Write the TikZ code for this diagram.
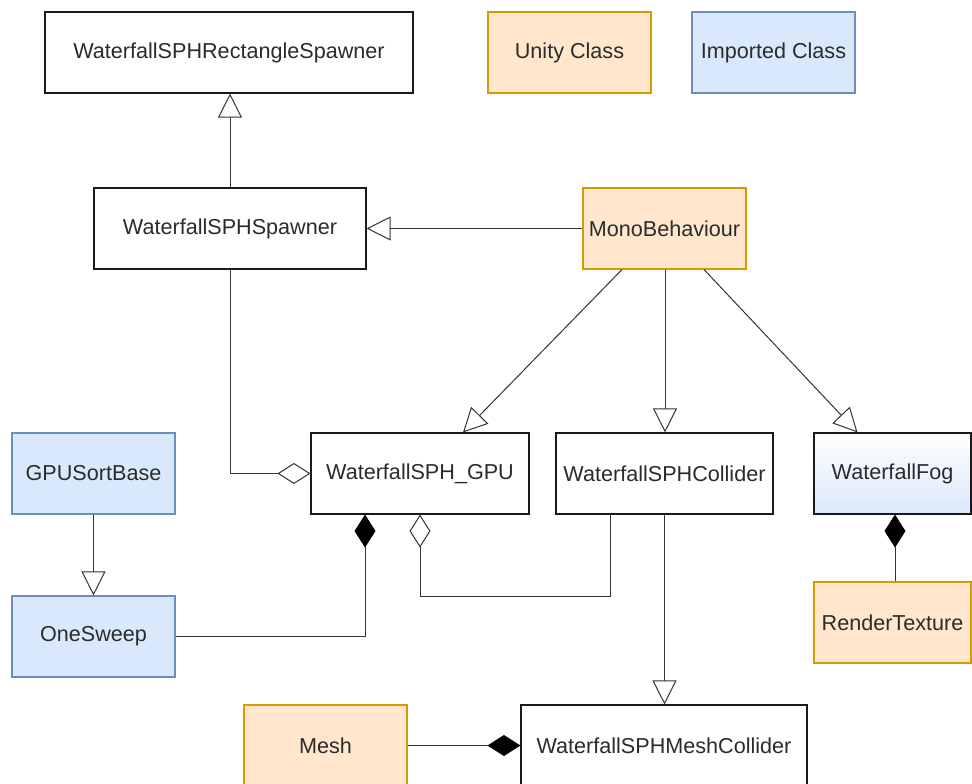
\documentclass[tikz,border=0pt]{standalone}
\usepackage{fontspec}
\setmainfont{Liberation Sans}
\usetikzlibrary{arrows.meta,calc}
\definecolor{unityfill}{HTML}{FFE6CC}
\definecolor{unitydraw}{HTML}{D79B00}
\definecolor{impfill}{HTML}{DAE8FC}
\definecolor{impdraw}{HTML}{6C8EBF}
\definecolor{boxcol}{HTML}{1A1A1A}
\definecolor{linecol}{HTML}{333333}
\definecolor{textcol}{HTML}{2B2B2B}
\begin{document}
\begin{tikzpicture}[x=1pt,y=-1pt,
  box/.style={rectangle, minimum height=81pt, inner sep=0pt, line width=1.1pt,
    font=\fontsize{21.6}{26}\selectfont, text=textcol},
  cls/.style={box, draw=boxcol, fill=white},
  unity/.style={box, draw=unitydraw, fill=unityfill},
  imported/.style={box, draw=impdraw, fill=impfill},
  link/.style={draw=linecol, line width=1pt},
  inherit/.style={link, -{Triangle[open, length=24pt, width=24pt]}},
  aggreg/.style={link, -{Diamond[open, length=33pt, width=21pt]}},
  compos/.style={link, -{Diamond[length=33pt, width=21pt, fill=black, color=black]}}]
\useasboundingbox (0,0) rectangle (972,784);

% class boxes
\node[cls, minimum width=368pt] (rect) at (229,52.5) {WaterfallSPHRectangleSpawner};
\node[unity, minimum width=163pt] (legu) at (569.5,52.5) {Unity Class};
\node[imported, minimum width=163pt] (legi) at (773.5,52.5) {Imported Class};
\node[cls, minimum width=272pt] (spawn) at (230,228.5) {WaterfallSPHSpawner};
\node[unity, minimum width=163pt] (mono) at (664.5,228.5) {MonoBehaviour};
\node[imported, minimum width=163pt] (sortbase) at (93.5,473.5) {GPUSortBase};
\node[cls, minimum width=218pt] (gpu) at (420,473.5) {WaterfallSPH\_GPU};
\node[cls, minimum width=217pt] (coll) at (664.5,473.5) {WaterfallSPHCollider};
\node[box, draw=boxcol, top color=white, bottom color=impfill, minimum width=157pt] (fog) at (892.5,473.5) {WaterfallFog};
\node[imported, minimum width=163pt] (sweep) at (93.5,636.5) {OneSweep};
\node[unity, minimum width=157pt] (rtex) at (892.5,622.5) {RenderTexture};
\node[unity, minimum width=163pt] (mesh) at (325.5,745.5) {Mesh};
\node[cls, minimum width=286pt] (meshcoll) at (664,745.5) {WaterfallSPHMeshCollider};

% inheritance
\draw[inherit] (spawn.north) -- (spawn.north |- rect.south);
\draw[inherit] (mono.west) -- (mono.west -| spawn.east);
\draw[inherit] ([xshift=-42.5pt]mono.south) -- ([xshift=43pt]gpu.north);
\draw[inherit] ([xshift=0.5pt]mono.south) -- ([xshift=0.5pt]coll.north);
\draw[inherit] ([xshift=39.5pt]mono.south) -- ([xshift=-35pt]fog.north);
\draw[inherit] (sortbase.south) -- (sweep.north);
\draw[inherit] (coll.south) -- (coll.south |- meshcoll.north);

% aggregation
\draw[aggreg] (spawn.south) |- (gpu.west);
\draw[aggreg] ([xshift=-54.5pt]coll.south) -- ++(0,82) -| (gpu.south);

% composition
\draw[compos] (sweep.east) -| ([xshift=-55pt]gpu.south);
\draw[compos] (mesh.east) -- (meshcoll.west);
\draw[compos] ([xshift=2.5pt]rtex.north) -- ([xshift=2.5pt]fog.south);
\end{tikzpicture}
\end{document}
